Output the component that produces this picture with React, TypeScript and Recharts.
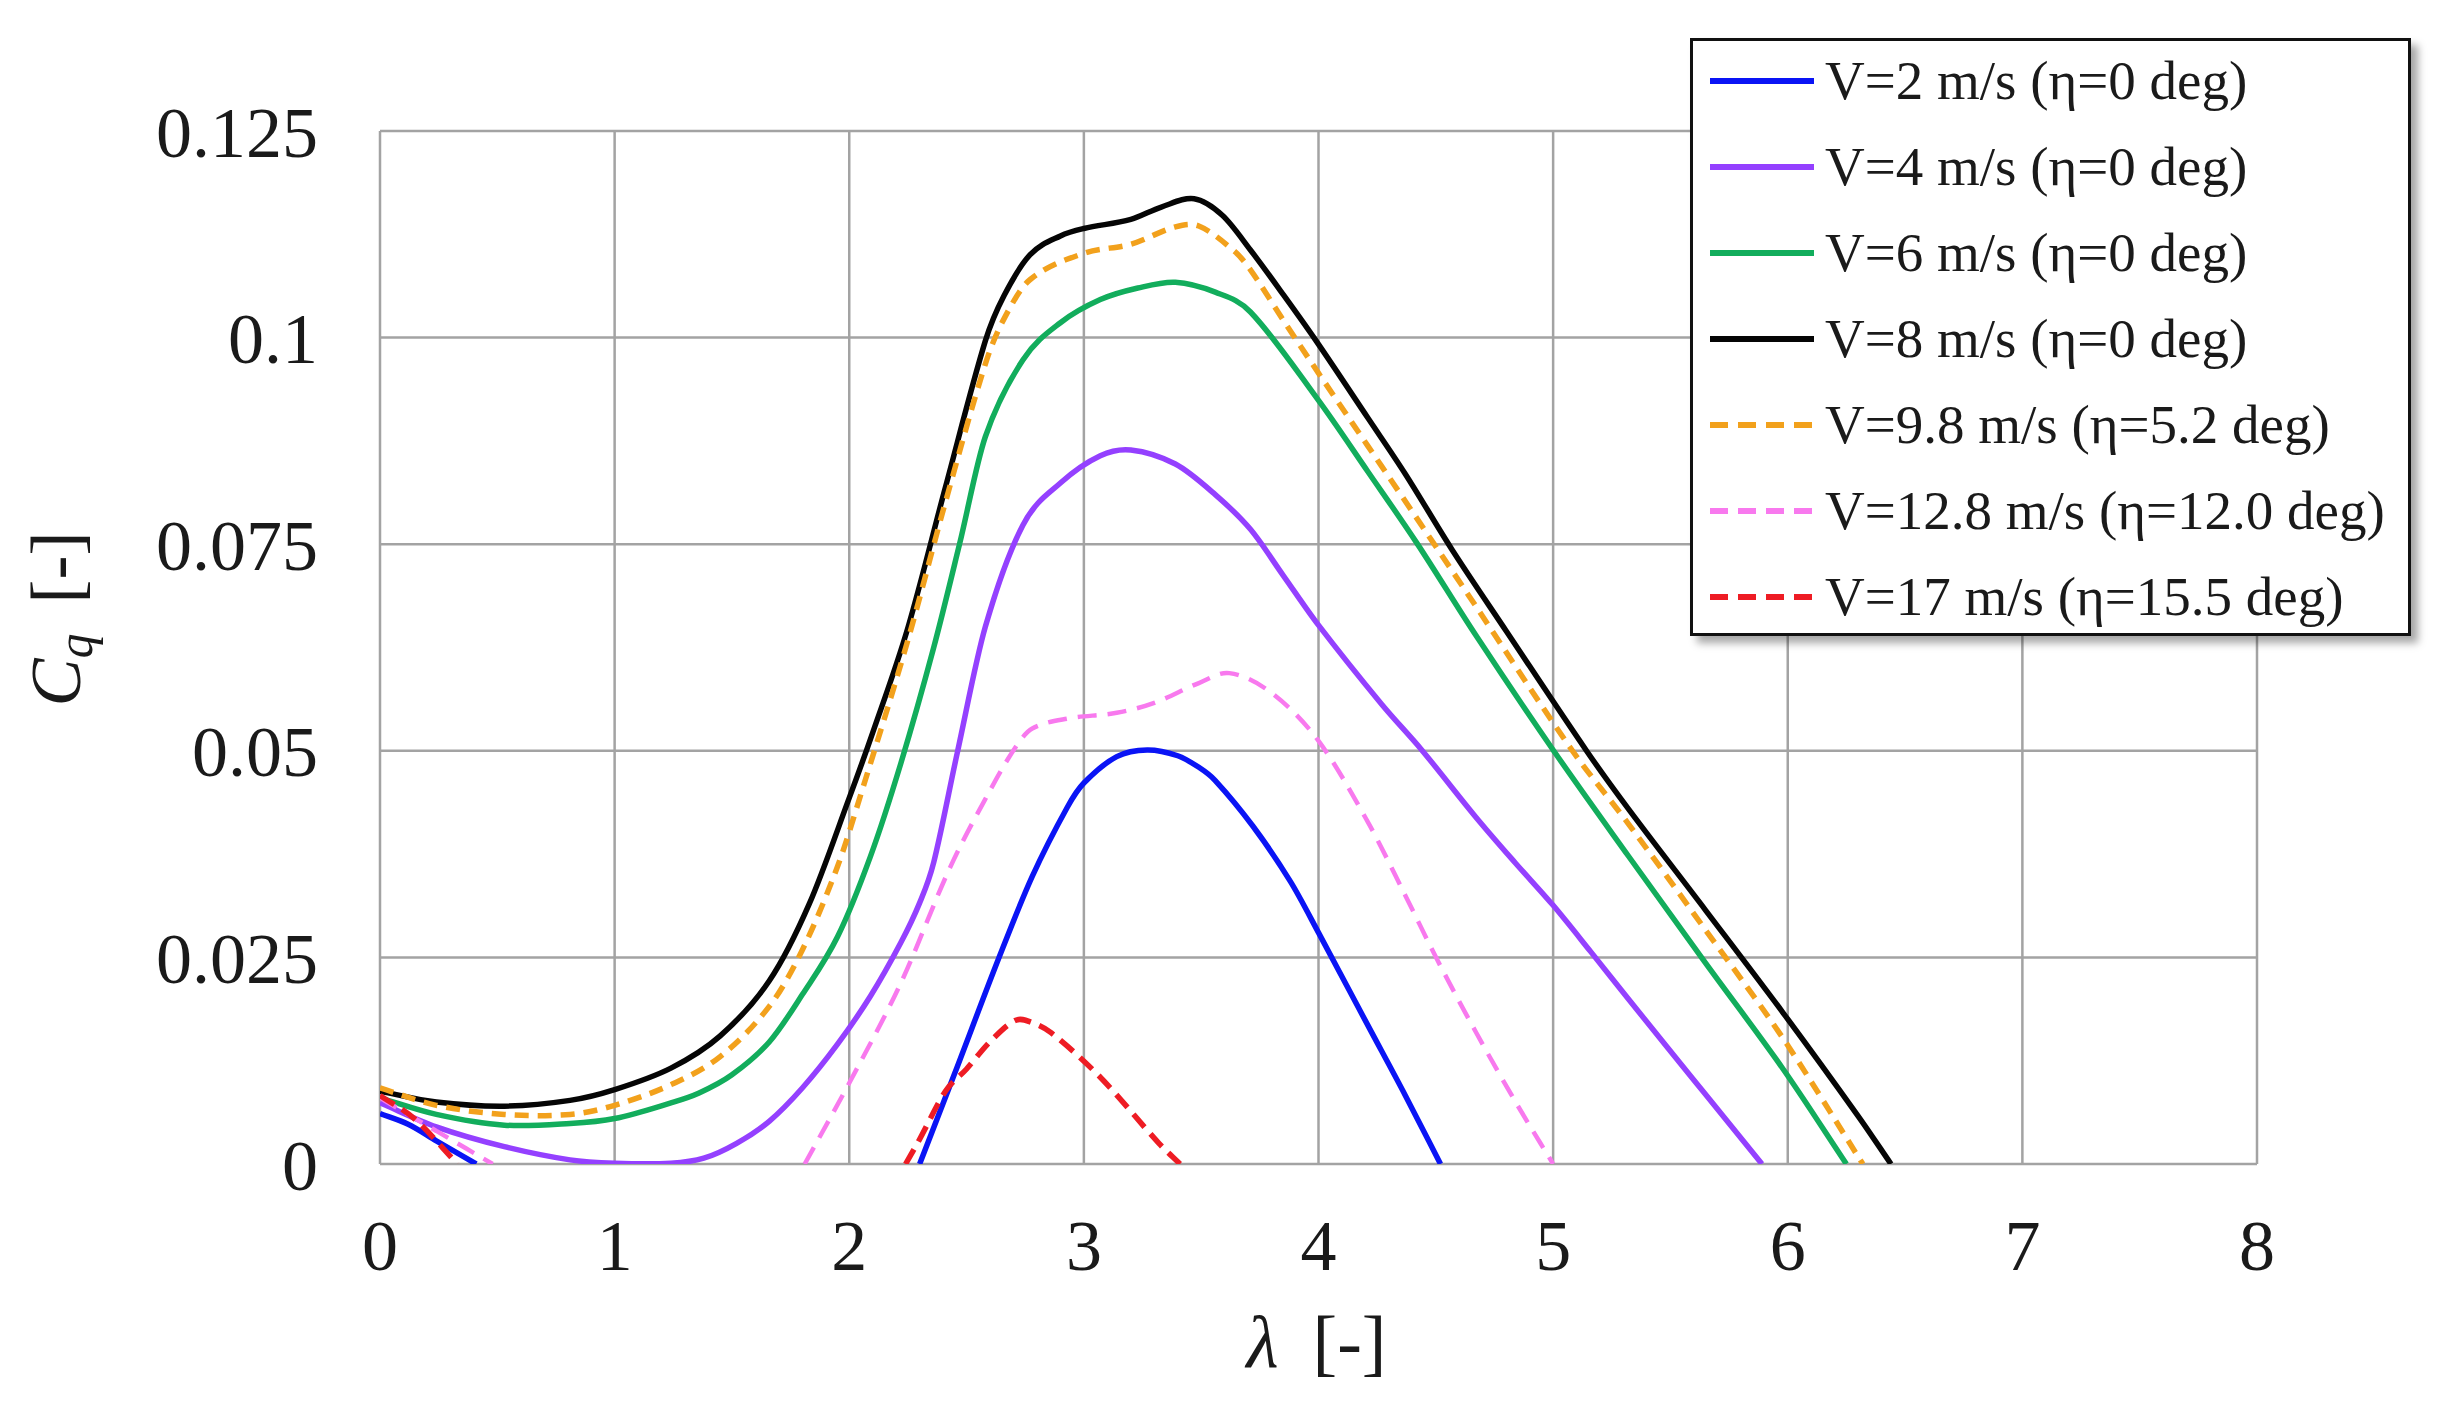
import React from 'react'
import { LineChart, Line, XAxis, YAxis, CartesianGrid, Label } from 'recharts'

const FONT = '"Liberation Serif", "Times New Roman", "DejaVu Serif", serif'
const W = 2432
const H = 1399

const LAMBDA_TICKS = [0, 1, 2, 3, 4, 5, 6, 7, 8]
const CQ_TICKS = [0, 0.025, 0.05, 0.075, 0.1, 0.125]

// values; null = curve runs below the axis (hidden)
const v2Lam = [0, 0.12, 0.24, 0.41, 1.3, 2.3, 2.45, 2.64, 2.78, 2.93, 3.0, 3.14, 3.27, 3.4, 3.49, 3.56, 3.72, 3.88, 4.0, 4.21, 4.37, 4.52]
const v2Cq = [0.0061, 0.0048, 0.0028, 0, null, 0, 0.011, 0.0251, 0.0348, 0.0432, 0.0461, 0.0493, 0.0501, 0.0494, 0.048, 0.0464, 0.0409, 0.0342, 0.028, 0.0168, 0.0083, 0]

const v4Lam = [0, 0.24, 0.53, 0.81, 1.0, 1.24, 1.38, 1.52, 1.66, 1.8, 1.95, 2.09, 2.22, 2.3, 2.36, 2.46, 2.58, 2.74, 2.9, 3.07, 3.2, 3.39, 3.56, 3.71, 3.85, 4.0, 4.27, 4.44, 4.67, 4.84, 5.0, 5.16, 5.32, 5.49, 5.65, 5.89]
const v4Cq = [0.0074, 0.0045, 0.0021, 0.0005, 0.0001, 0.0001, 0.0007, 0.0025, 0.0052, 0.0092, 0.0145, 0.0203, 0.0268, 0.0316, 0.0365, 0.0497, 0.065, 0.0773, 0.0824, 0.0857, 0.0864, 0.0847, 0.081, 0.0768, 0.0712, 0.0652, 0.0556, 0.0501, 0.042, 0.0364, 0.0313, 0.0257, 0.02, 0.014, 0.0084, 0]

const v6Lam = [0, 0.24, 0.53, 0.81, 1.0, 1.24, 1.36, 1.5, 1.66, 1.8, 1.95, 2.09, 2.22, 2.36, 2.47, 2.58, 2.74, 2.9, 3.07, 3.23, 3.39, 3.56, 3.71, 4.0, 4.21, 4.42, 4.67, 5.0, 5.32, 5.65, 5.98, 6.25]
const v6Cq = [0.008, 0.006, 0.0047, 0.0049, 0.0055, 0.0074, 0.0086, 0.0108, 0.0148, 0.0205, 0.0275, 0.0372, 0.0485, 0.0625, 0.075, 0.088, 0.0973, 0.1018, 0.1046, 0.106, 0.1067, 0.1055, 0.1031, 0.0924, 0.0838, 0.0751, 0.064, 0.0501, 0.0373, 0.0243, 0.0115, 0]

const v8Lam = [0, 0.24, 0.53, 0.81, 1.0, 1.24, 1.45, 1.66, 1.83, 2.0, 2.1, 2.25, 2.41, 2.58, 2.66, 2.77, 2.9, 3.0, 3.2, 3.33, 3.47, 3.59, 3.71, 3.85, 3.99, 4.21, 4.37, 4.57, 4.8, 5.14, 5.32, 5.65, 5.98, 6.3, 6.44]
const v8Cq = [0.0088, 0.0075, 0.007, 0.0077, 0.009, 0.0116, 0.0155, 0.0222, 0.0315, 0.0443, 0.0522, 0.0649, 0.0819, 0.0996, 0.1051, 0.11, 0.1123, 0.1132, 0.1143, 0.1158, 0.1168, 0.1148, 0.1106, 0.1052, 0.0996, 0.0903, 0.0835, 0.0743, 0.0645, 0.0501, 0.043, 0.0307, 0.0183, 0.0058, 0]

const v98Lam = [0, 0.24, 0.53, 0.81, 1.0, 1.24, 1.45, 1.66, 1.8, 1.95, 2.06, 2.25, 2.41, 2.58, 2.66, 2.77, 3.0, 3.2, 3.39, 3.49, 3.64, 3.71, 3.85, 4.0, 4.21, 4.37, 4.64, 5.08, 5.32, 5.65, 5.98, 6.32]
const v98Cq = [0.0092, 0.0071, 0.006, 0.006, 0.0071, 0.0096, 0.013, 0.0191, 0.0259, 0.036, 0.0457, 0.0634, 0.0801, 0.0968, 0.1023, 0.107, 0.1102, 0.1113, 0.1134, 0.1135, 0.1105, 0.1082, 0.1021, 0.0957, 0.0869, 0.0802, 0.0688, 0.0501, 0.0412, 0.0283, 0.0152, 0]

const v128Lam = [0, 0.24, 0.48, 1.1, 1.81, 2.0, 2.22, 2.43, 2.6, 2.71, 2.78, 2.93, 3.14, 3.3, 3.49, 3.62, 3.8, 4.0, 4.21, 4.37, 4.51, 4.67, 4.84, 5.0]
const v128Cq = [0.008, 0.004, 0, null, 0, 0.0098, 0.0219, 0.0359, 0.0452, 0.0505, 0.0527, 0.0539, 0.0546, 0.0558, 0.0582, 0.0594, 0.057, 0.0512, 0.0414, 0.0325, 0.0245, 0.016, 0.0075, 0]

const v17Lam = [0, 0.15, 0.33, 1.2, 2.24, 2.3, 2.41, 2.5, 2.6, 2.71, 2.78, 2.86, 3.07, 3.32, 3.41]
const v17Cq = [0.0083, 0.0054, 0, null, 0, 0.003, 0.0088, 0.0115, 0.0148, 0.0174, 0.0171, 0.0159, 0.0105, 0.0025, 0]

type Pt = { lam: number; cq: number | null }
const zip = (lam: number[], cq: (number | null)[]): Pt[] => lam.map((l, i) => ({ lam: l, cq: cq[i] }))

// smooth cubic through the points (tangents from neighbours, x-aware), like Excel's smoothed line
const smoothCurve = (context: any) => {
  let pts: number[][] = []
  const flush = () => {
    const n = pts.length
    if (n === 0) return
    context.moveTo(pts[0][0], pts[0][1])
    if (n === 1) return
    if (n === 2) {
      context.lineTo(pts[1][0], pts[1][1])
      return
    }
    const m: number[] = pts.map((p, i) => {
      if (i === 0) return (pts[1][1] - p[1]) / (pts[1][0] - p[0])
      if (i === n - 1) return (p[1] - pts[i - 1][1]) / (p[0] - pts[i - 1][0])
      return (pts[i + 1][1] - pts[i - 1][1]) / (pts[i + 1][0] - pts[i - 1][0])
    })
    for (let i = 0; i < n - 1; i++) {
      const [x0, y0] = pts[i]
      const [x1, y1] = pts[i + 1]
      const h = (x1 - x0) / 3
      context.bezierCurveTo(x0 + h, y0 + m[i] * h, x1 - h, y1 - m[i + 1] * h, x1, y1)
    }
  }
  return {
    areaStart() {},
    areaEnd() {},
    lineStart() { pts = [] },
    lineEnd() { flush(); pts = [] },
    point(x: number, y: number) { pts.push([+x, +y]) },
  }
}

const SERIES = [
  { name: 'V=2 m/s (η=0 deg)', data: zip(v2Lam, v2Cq), color: '#0a14f5', width: 5.5, dash: undefined },
  { name: 'V=4 m/s (η=0 deg)', data: zip(v4Lam, v4Cq), color: '#9440ff', width: 5.5, dash: undefined },
  { name: 'V=6 m/s (η=0 deg)', data: zip(v6Lam, v6Cq), color: '#12ad5c', width: 5.5, dash: undefined },
  { name: 'V=8 m/s (η=0 deg)', data: zip(v8Lam, v8Cq), color: '#050505', width: 5.5, dash: undefined },
  { name: 'V=9.8 m/s (η=5.2 deg)', data: zip(v98Lam, v98Cq), color: '#f2a11c', width: 5.5, dash: '14 9' },
  { name: 'V=12.8 m/s (η=12.0 deg)', data: zip(v128Lam, v128Cq), color: '#f879ee', width: 4.5, dash: '19 11' },
  { name: 'V=17 m/s (η=15.5 deg)', data: zip(v17Lam, v17Cq), color: '#ee1c24', width: 5.5, dash: '17 9' },
]

const XTitle = (props: any) => {
  const vb = props.viewBox || { x: 372, y: 1156, width: 1877 }
  return (
    <text x={vb.x + vb.width / 2 - 2} y={vb.y + 203} textAnchor="middle" fontFamily={FONT} fontSize={74} fill="#1a1a1a">
      <tspan fontStyle="italic">λ</tspan>
      <tspan dx={34}>[-]</tspan>
    </text>
  )
}

const YTitle = (props: any) => {
  const vb = props.viewBox || { x: 72, y: 123, height: 1033 }
  const cx = vb.x
  const cy = vb.y + 488
  return (
    <text x={cx} y={cy} transform={`rotate(-90, ${cx}, ${cy})`} textAnchor="middle" fontFamily={FONT} fontSize={72} fill="#1a1a1a">
      <tspan fontStyle="italic">C</tspan>
      <tspan fontStyle="italic" fontSize={50} dy={12}>q</tspan>
      <tspan dy={-12} dx={30}>[-]</tspan>
    </text>
  )
}

function LegendBox() {
  return (
    <div
      style={{
        position: 'absolute', left: 1682, top: 30, width: 721, height: 598,
        boxSizing: 'border-box', border: '3px solid #111', background: '#fff',
        boxShadow: '7px 7px 8px rgba(0,0,0,0.35)',
      }}
    >
      {SERIES.map((s, i) => (
        <div
          key={s.name}
          style={{
            position: 'absolute', left: 0, top: 10 + 86 * i, height: 60, width: 715,
            display: 'flex', alignItems: 'center',
          }}
        >
          <svg width={104} height={20} style={{ position: 'absolute', left: 17, top: 20 }}>
            <line x1={0} y1={10} x2={104} y2={10} stroke={s.color} strokeWidth={6} strokeDasharray={s.dash ? '18 10' : undefined} />
          </svg>
          <span
            style={{
              position: 'absolute', left: 132, fontFamily: FONT, fontSize: 55,
              lineHeight: '60px', color: '#1a1a1a', whiteSpace: 'nowrap',
            }}
          >
            {s.name}
          </span>
        </div>
      ))}
    </div>
  )
}

export default function App() {
  const tickStyle = { fontSize: 72, fill: '#1a1a1a', fontFamily: FONT }
  return (
    <div style={{ position: 'relative', width: W, height: H, background: '#fff' }}>
      <LineChart width={W} height={H} margin={{ top: 123, right: 183, bottom: 43, left: 72 }}>
        <CartesianGrid stroke="#a3a3a3" strokeWidth={2.5} />
        <XAxis
          dataKey="lam"
          type="number"
          domain={[0, 8]}
          ticks={LAMBDA_TICKS}
          interval={0}
          allowDataOverflow
          axisLine={false}
          tickLine={false}
          tickSize={0}
          tickMargin={55}
          height={200}
          tick={tickStyle}
        >
          <Label content={<XTitle />} />
        </XAxis>
        <YAxis
          type="number"
          domain={[0, 0.125]}
          ticks={CQ_TICKS}
          interval={0}
          allowDataOverflow
          axisLine={false}
          tickLine={false}
          tickSize={0}
          tickMargin={62}
          width={300}
          tick={tickStyle}
          tickFormatter={(v: number) => String(v)}
        >
          <Label content={<YTitle />} />
        </YAxis>
        {SERIES.map((s) => (
          <Line
            key={s.name}
            name={s.name}
            data={s.data}
            dataKey="cq"
            type={smoothCurve as any}
            stroke={s.color}
            strokeWidth={s.width}
            strokeDasharray={s.dash}
            dot={false}
            activeDot={false}
            connectNulls={false}
            isAnimationActive={false}
          />
        ))}
      </LineChart>
      <LegendBox />
    </div>
  )
}
